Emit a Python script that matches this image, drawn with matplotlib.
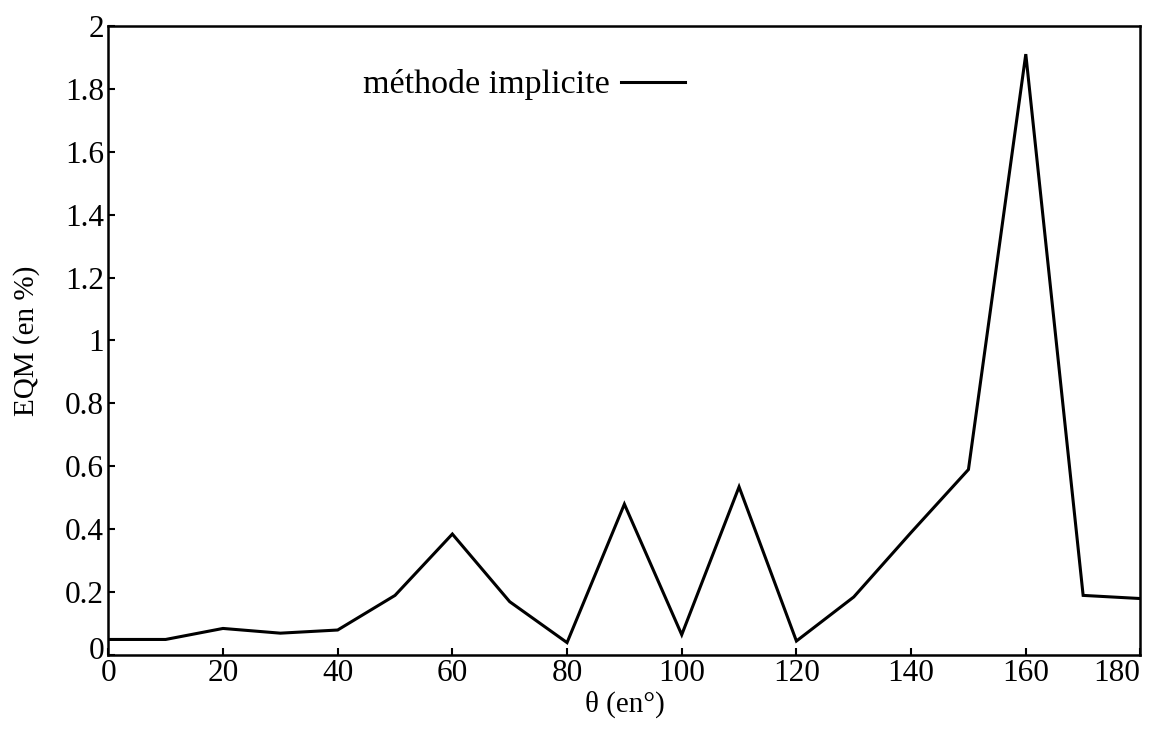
import matplotlib
matplotlib.use("Agg")
import matplotlib.pyplot as plt
import matplotlib.transforms as mtransforms

# angle (degrees) and mean quadratic error (%)
theta = [0, 10, 20, 30, 40, 50, 60, 70, 80, 90, 100, 110, 120, 130, 140, 150, 160, 170, 180]
eqm = [0.05, 0.05, 0.085, 0.07, 0.08, 0.19, 0.385, 0.17, 0.04, 0.48, 0.065, 0.535,
       0.045, 0.185, 0.39, 0.59, 1.91, 0.19, 0.18]

xticks = [0, 20, 40, 60, 80, 100, 120, 140, 160, 180]
yticks = [0, 0.2, 0.4, 0.6, 0.8, 1.0, 1.2, 1.4, 1.6, 1.8, 2.0]
ytick_labels = ["0", "0.2", "0.4", "0.6", "0.8", "1", "1.2", "1.4", "1.6", "1.8", "2"]

plt.rcParams["font.family"] = ["Liberation Serif", "DejaVu Serif"]

fig = plt.figure(figsize=(11.52, 7.37), dpi=100)
ax = fig.add_axes([0.094, 0.111, 0.896, 0.854])

ax.plot(theta, eqm, color="black", linewidth=2.2, solid_joinstyle="miter")

ax.set_xlim(0, 180)
ax.set_ylim(0, 2)
ax.set_xticks(xticks)
ax.set_yticks(yticks)
ax.set_yticklabels(ytick_labels)
ax.tick_params(direction="in", length=5, width=1.5, labelsize=22.5, pad=3)
for s in ax.spines.values():
    s.set_linewidth(1.8)

# last x label sits left of its tick so it stays inside the figure
ax.get_xticklabels()[-1].set_horizontalalignment("right")
# y "0" sits a bit above the corner, clear of the x "0"
lab0 = ax.get_yticklabels()[0]
lab0.set_transform(lab0.get_transform() +
                   mtransforms.ScaledTranslation(0, 5 / 72, fig.dpi_scale_trans))

ax.set_xlabel("θ (en°)", fontsize=21, labelpad=2)
ax.set_ylabel("EQM (en %)", fontsize=21, labelpad=18)

# legend drawn as text plus a short line sample
ax.text(0.247, 0.906, "méthode implicite", transform=ax.transAxes,
        fontsize=24.5, va="center", ha="left")
ax.plot([0.497, 0.559], [0.910, 0.910], transform=ax.transAxes,
        color="black", linewidth=2.2)

fig.savefig("out.png", dpi=100)
